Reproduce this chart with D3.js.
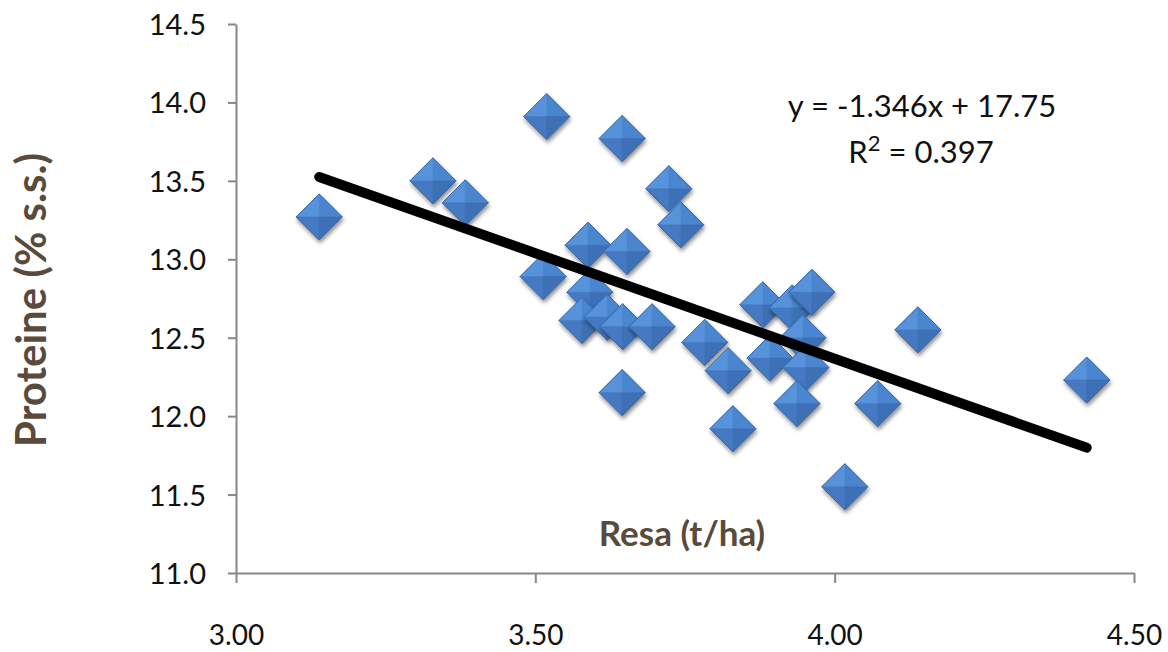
<!DOCTYPE html>
<html>
<head>
<meta charset="utf-8">
<script src="https://cdn.jsdelivr.net/npm/d3@7"></script>
<style>
  body { margin: 0; background: #fff; }
  svg { display: block; }
</style>
</head>
<body>
<script>
// yield (t/ha) and protein (% s.s.)
var resa = [3.139, 3.329, 3.383, 3.519, 3.645, 3.723, 3.743, 3.513, 3.588, 3.653,
            3.591, 3.578, 3.620, 3.646, 3.695, 3.645, 3.783, 3.822, 3.830, 3.880,
            3.892, 3.929, 3.962, 3.947, 3.952, 3.937, 4.139, 4.072, 4.017, 4.421];
var proteine = [13.27, 13.50, 13.36, 13.91, 13.77, 13.45, 13.22, 12.89, 13.09, 13.05,
                12.79, 12.61, 12.63, 12.57, 12.57, 12.15, 12.47, 12.29, 11.92, 12.71,
                12.37, 12.69, 12.79, 12.50, 12.31, 12.08, 12.55, 12.08, 11.55, 12.23];
var xTicks = [3.0, 3.5, 4.0, 4.5];
var yTicks = [11.0, 11.5, 12.0, 12.5, 13.0, 13.5, 14.0, 14.5];
var slope = -1.346, intercept = 17.75, r2 = 0.397;

var W = 1168, H = 652;
var margin = {top: 24, right: 34, bottom: 79, left: 236};

var svg = d3.select("body").append("svg")
    .attr("width", W)
    .attr("height", H);

var defs = svg.append("defs");
var f = defs.append("filter").attr("id", "shadow")
    .attr("x", "-50%").attr("y", "-50%").attr("width", "200%").attr("height", "200%");
f.append("feGaussianBlur").attr("in", "SourceAlpha").attr("stdDeviation", 2.2);
f.append("feOffset").attr("dx", 1).attr("dy", 3).attr("result", "off");
f.append("feComponentTransfer").append("feFuncA").attr("type", "linear").attr("slope", 0.45);
var m = f.append("feMerge");
m.append("feMergeNode");
m.append("feMergeNode").attr("in", "SourceGraphic");

// scales
var x = d3.scaleLinear()
    .domain([3.0, 4.5])
    .range([margin.left, W - margin.right]);
var y = d3.scaleLinear()
    .domain([11.0, 14.5])
    .range([H - margin.bottom, margin.top]);

// axes
var xAxis = svg.append("g")
    .attr("transform", "translate(0," + y(11.0) + ")")
    .call(d3.axisBottom(x).tickValues(xTicks).tickFormat(d3.format(".2f"))
        .tickSize(10).tickSizeOuter(0));
var yAxis = svg.append("g")
    .attr("transform", "translate(" + x(3.0) + ",0)")
    .call(d3.axisLeft(y).tickValues(yTicks).tickFormat(d3.format(".1f"))
        .tickSize(8).tickSizeOuter(0).tickPadding(22));

[xAxis, yAxis].forEach(function(a) {
    a.select(".domain").attr("stroke", "#878787").attr("stroke-width", 2);
    a.selectAll(".tick line").attr("stroke", "#878787").attr("stroke-width", 2);
    a.selectAll(".tick text")
        .attr("fill", "#111")
        .style("font-family", "Lato, 'Open Sans', sans-serif")
        .style("font-size", "29px");
});
yAxis.selectAll(".tick text").attr("dy", "0.36em");
xAxis.selectAll(".tick text").attr("y", 72).attr("dy", 0).style("font-size", "28px");

// markers
var pts = resa.map(function(d, i) { return {x: d, y: proteine[i]}; });
var s = 23;
var facets = [
    {p: [[0, -s], [0, 0], [-s, 0]], c: "#5793da"},
    {p: [[0, -s], [s, 0], [0, 0]], c: "#4a86cf"},
    {p: [[-s, 0], [0, 0], [0, s]], c: "#4479c2"},
    {p: [[0, 0], [s, 0], [0, s]], c: "#3c6fb5"}
];

var g = svg.selectAll(".pt")
    .data(pts)
    .enter()
    .append("g")
    .attr("class", "pt")
    .attr("transform", function(d) { return "translate(" + x(d.x) + "," + y(d.y) + ")"; })
    .attr("filter", "url(#shadow)");

facets.forEach(function(fc) {
    g.append("path")
        .attr("d", "M" + fc.p.join("L") + "Z")
        .attr("fill", fc.c)
        .attr("stroke", fc.c)
        .attr("stroke-width", 0.6);
});
g.append("path")
    .attr("d", "M0," + (-s) + "L" + s + ",0L0," + s + "L" + (-s) + ",0Z")
    .attr("fill", "none")
    .attr("stroke", "#3566a6")
    .attr("stroke-width", 1);

// trend line
var x0 = d3.min(resa), x1 = d3.max(resa);
svg.append("line")
    .attr("x1", x(x0)).attr("y1", y(slope * x0 + intercept))
    .attr("x2", x(x1)).attr("y2", y(slope * x1 + intercept))
    .attr("stroke", "#000")
    .attr("stroke-width", 10)
    .attr("stroke-linecap", "round");

// equation
var eq = svg.append("g")
    .style("font-family", "Lato, 'Open Sans', sans-serif")
    .style("font-size", "31px")
    .attr("fill", "#111")
    .attr("text-anchor", "middle");
eq.append("text").attr("x", 922).attr("y", 117)
    .text("y = " + slope + "x + " + intercept);
var r = eq.append("text").attr("x", 921).attr("y", 163);
r.append("tspan").text("R");
r.append("tspan").attr("dy", -12).style("font-size", "22px").text("2");
r.append("tspan").attr("dy", 12).text(" = " + r2);

// axis titles
svg.append("text")
    .attr("x", 682).attr("y", 546)
    .attr("text-anchor", "middle")
    .attr("fill", "#594a3b")
    .style("font-family", "Lato, 'Open Sans', sans-serif")
    .style("font-weight", "bold")
    .style("font-size", "35px")
    .text("Resa (t/ha)");

svg.append("text")
    .attr("transform", "translate(46,300) rotate(-90)")
    .attr("text-anchor", "middle")
    .attr("fill", "#594a3b")
    .style("font-family", "Lato, 'Open Sans', sans-serif")
    .style("font-weight", "bold")
    .style("font-size", "42px")
    .text("Proteine (% s.s.)");
</script>
</body>
</html>
